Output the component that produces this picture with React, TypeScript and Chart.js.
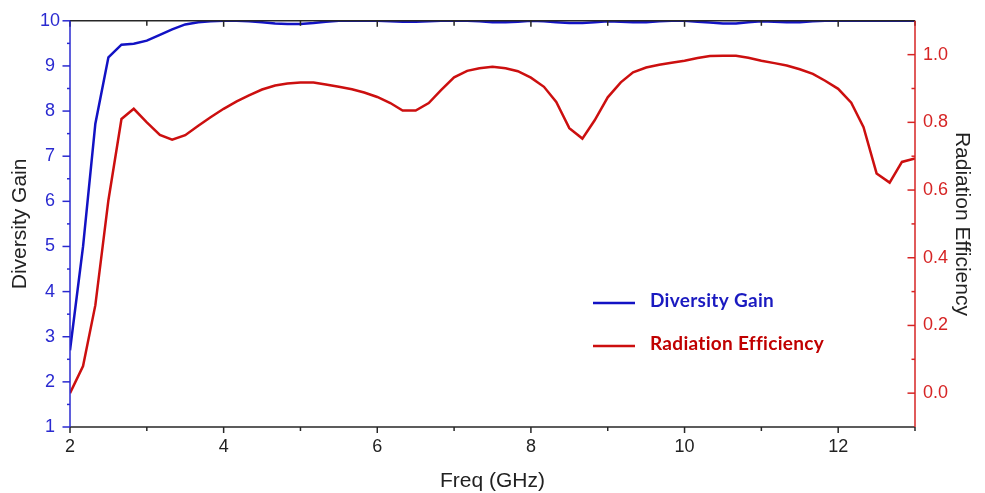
import React, { useEffect, useRef } from "react";
import { Chart, registerables } from "chart.js";

Chart.register(...registerables);

const FREQ = [
  2.0, 2.17, 2.33, 2.5, 2.67, 2.83, 3.0, 3.17, 3.33, 3.5, 3.67, 3.83,
  4.0, 4.17, 4.33, 4.5, 4.67, 4.83, 5.0, 5.17, 5.33, 5.5, 5.67, 5.83,
  6.0, 6.17, 6.33, 6.5, 6.67, 6.83, 7.0, 7.17, 7.33, 7.5, 7.67, 7.83,
  8.0, 8.17, 8.33, 8.5, 8.67, 8.83, 9.0, 9.17, 9.33, 9.5, 9.67, 9.83,
  10.0, 10.17, 10.33, 10.5, 10.67, 10.83, 11.0, 11.17, 11.33, 11.5, 11.67, 11.83,
  12.0, 12.17, 12.33, 12.5, 12.67, 12.83, 13.0,
];

const DIVERSITY_GAIN = [
  2.7, 5.0, 7.72, 9.19, 9.47, 9.49, 9.56, 9.69, 9.81, 9.92, 9.97, 9.99,
  10.0, 10.0, 9.99, 9.97, 9.94, 9.93, 9.93, 9.95, 9.98, 10.0, 10.0, 10.0,
  10.0, 9.99, 9.98, 9.98, 9.99, 10.0, 10.0, 10.0, 9.99, 9.97, 9.97, 9.98,
  10.0, 9.99, 9.97, 9.95, 9.95, 9.97, 9.99, 9.98, 9.97, 9.97, 9.99, 10.0,
  10.0, 9.98, 9.96, 9.94, 9.94, 9.97, 9.99, 9.98, 9.97, 9.97, 9.99, 10.0,
  10.0, 10.0, 10.0, 10.0, 10.0, 10.0, 10.0,
];

const RADIATION_EFFICIENCY = [
  0.0, 0.08, 0.26, 0.57, 0.81, 0.84, 0.8, 0.763, 0.749, 0.762, 0.79, 0.815,
  0.84, 0.862, 0.88, 0.897, 0.909, 0.915, 0.918, 0.918, 0.912, 0.905, 0.898, 0.888,
  0.875, 0.857, 0.835, 0.835, 0.857, 0.895, 0.933, 0.952, 0.96, 0.964, 0.96, 0.951,
  0.932, 0.905, 0.86, 0.783, 0.752, 0.806, 0.874, 0.918, 0.948, 0.962, 0.97, 0.976,
  0.982, 0.99, 0.996, 0.997, 0.997, 0.991, 0.982, 0.975, 0.968, 0.957, 0.943, 0.923,
  0.899, 0.858, 0.786, 0.649, 0.622, 0.683, 0.693,
];

const X_TICKS = [2, 4, 6, 8, 10, 12];
const X_MINOR = [3, 5, 7, 9, 11, 13];
const LEFT_TICKS = [1, 2, 3, 4, 5, 6, 7, 8, 9, 10];
const LEFT_MINOR = [1.5, 2.5, 3.5, 4.5, 5.5, 6.5, 7.5, 8.5, 9.5];
const RIGHT_TICKS = [0, 0.2, 0.4, 0.6, 0.8, 1.0];
const RIGHT_MINOR = [0.1, 0.3, 0.5, 0.7, 0.9];

const SERIES_NAMES = ["Diversity Gain", "Radiation Efficiency"];

const BLUE = "#1212c4";
const RED = "#cc0f0f";
const AXIS_BLUE = "#2a2ad0";
const AXIS_RED = "#d62424";
const LEGEND_BLUE = "#1a1ac0";
const LEGEND_RED = "#c00000";
const FONT = "'Liberation Sans', Arial, sans-serif";
const LEGEND_FONT = "Lato, 'Open Sans', sans-serif";

const framePlugin = {
  id: "frame",
  afterDatasetsDraw(chart: any) {
    const { ctx, chartArea: a, scales } = chart;
    const x = scales.x;
    const y = scales.y;
    const y1 = scales.y1;
    const seg = (x0: number, y0: number, x2: number, y2: number) => {
      ctx.beginPath();
      ctx.moveTo(x0, y0);
      ctx.lineTo(x2, y2);
      ctx.stroke();
    };
    ctx.save();
    ctx.lineWidth = 1.5;
    ctx.strokeStyle = "#262626";
    seg(a.left, a.top, a.right, a.top);
    seg(a.left, a.bottom, a.right, a.bottom);
    X_TICKS.forEach((v) => {
      const p = x.getPixelForValue(v);
      seg(p, a.bottom, p, a.bottom + 6);
      seg(p, a.top, p, a.top + 6);
    });
    X_MINOR.forEach((v) => {
      const p = x.getPixelForValue(v);
      seg(p, a.bottom, p, a.bottom + 4);
      seg(p, a.top, p, a.top + 5);
    });
    ctx.strokeStyle = AXIS_BLUE;
    seg(a.left, a.top, a.left, a.bottom);
    LEFT_TICKS.forEach((v) => {
      const p = y.getPixelForValue(v);
      seg(a.left - 7.5, p, a.left, p);
    });
    LEFT_MINOR.forEach((v) => {
      const p = y.getPixelForValue(v);
      seg(a.left - 3, p, a.left, p);
    });
    ctx.strokeStyle = AXIS_RED;
    seg(a.right, a.top, a.right, a.bottom);
    RIGHT_TICKS.forEach((v) => {
      const p = y1.getPixelForValue(v);
      seg(a.right - 7.5, p, a.right, p);
    });
    RIGHT_MINOR.forEach((v) => {
      const p = y1.getPixelForValue(v);
      seg(a.right - 3.5, p, a.right, p);
    });
    ctx.restore();
  },
};

const legendPlugin = {
  id: "customLegend",
  afterDraw(chart: any) {
    const { ctx } = chart;
    ctx.save();
    const items = [
      { text: SERIES_NAMES[0], line: BLUE, color: LEGEND_BLUE, y: 301 },
      { text: SERIES_NAMES[1], line: RED, color: LEGEND_RED, y: 344 },
    ];
    items.forEach((it) => {
      ctx.strokeStyle = it.line;
      ctx.lineWidth = 2.5;
      ctx.beginPath();
      ctx.moveTo(593, it.y + 2);
      ctx.lineTo(635, it.y + 2);
      ctx.stroke();
      ctx.fillStyle = it.color;
      ctx.font = `bold 19px ${LEGEND_FONT}`;
      try {
        (ctx as any).letterSpacing = "0.3px";
      } catch (e) {}
      ctx.textBaseline = "middle";
      ctx.textAlign = "left";
      ctx.fillText(it.text, 650, it.y);
    });
    ctx.restore();
  },
};

export default function App() {
  const ref = useRef<HTMLCanvasElement | null>(null);

  useEffect(() => {
    if (!ref.current) return;
    const chart = new Chart(ref.current, {
      type: "line",
      data: {
        datasets: [
          {
            label: SERIES_NAMES[0],
            data: FREQ.map((f, i) => ({ x: f, y: DIVERSITY_GAIN[i] })),
            yAxisID: "y",
            borderColor: BLUE,
            borderWidth: 2.5,
            pointRadius: 0,
            tension: 0,
          },
          {
            label: SERIES_NAMES[1],
            data: FREQ.map((f, i) => ({ x: f, y: RADIATION_EFFICIENCY[i] })),
            yAxisID: "y1",
            borderColor: RED,
            borderWidth: 2.5,
            pointRadius: 0,
            tension: 0,
          },
        ],
      },
      options: {
        animation: false,
        responsive: false,
        layout: { padding: { top: 18, left: 0, right: 0, bottom: 0 } },
        plugins: {
          legend: { display: false },
          tooltip: { enabled: false },
        },
        scales: {
          x: {
            type: "linear",
            position: "bottom",
            min: 2,
            max: 13,
            afterBuildTicks: (s: any) => {
              s.ticks = X_TICKS.map((v) => ({ value: v }));
            },
            afterFit: (s: any) => {
              s.height = 66;
            },
            grid: { display: false, drawTicks: false },
            border: { display: false },
            ticks: {
              color: "#222",
              font: { family: FONT, size: 18 },
              padding: 9,
              maxRotation: 0,
              autoSkip: false,
            },
            title: {
              display: true,
              text: "Freq (GHz)",
              color: "#222",
              font: { family: FONT, size: 21 },
              padding: { top: 0, bottom: -1 },
            },
          },
          y: {
            type: "linear",
            position: "left",
            min: 1,
            max: 10,
            afterBuildTicks: (s: any) => {
              s.ticks = LEFT_TICKS.map((v) => ({ value: v }));
            },
            afterFit: (s: any) => {
              s.width = 70;
            },
            grid: { display: false, drawTicks: false },
            border: { display: false },
            ticks: {
              color: AXIS_BLUE,
              font: { family: FONT, size: 18 },
              padding: 10,
              crossAlign: "center",
            },
            title: {
              display: true,
              text: "Diversity Gain",
              color: "#222",
              font: { family: FONT, size: 21 },
              padding: { top: 8, bottom: 0 },
            },
          },
          y1: {
            type: "linear",
            position: "right",
            min: -0.1,
            max: 1.1,
            afterBuildTicks: (s: any) => {
              s.ticks = RIGHT_TICKS.map((v) => ({ value: v }));
            },
            afterFit: (s: any) => {
              s.width = 70;
            },
            grid: { display: false, drawTicks: false },
            border: { display: false },
            ticks: {
              color: AXIS_RED,
              font: { family: FONT, size: 18 },
              padding: 8,
              callback: (v: any) => Number(v).toFixed(1),
            },
            title: {
              display: true,
              text: "Radiation Efficiency",
              color: "#222",
              font: { family: FONT, size: 21 },
              padding: { top: 11, bottom: 0 },
            },
          },
        },
      } as any,
      plugins: [framePlugin, legendPlugin],
    });
    return () => chart.destroy();
  }, []);

  return (
    <div
      style={{
        position: "absolute",
        left: 0,
        top: 0,
        width: 985,
        height: 493,
        background: "#fff",
      }}
    >
      <canvas ref={ref} width={985} height={493} style={{ display: "block" }} />
    </div>
  );
}
